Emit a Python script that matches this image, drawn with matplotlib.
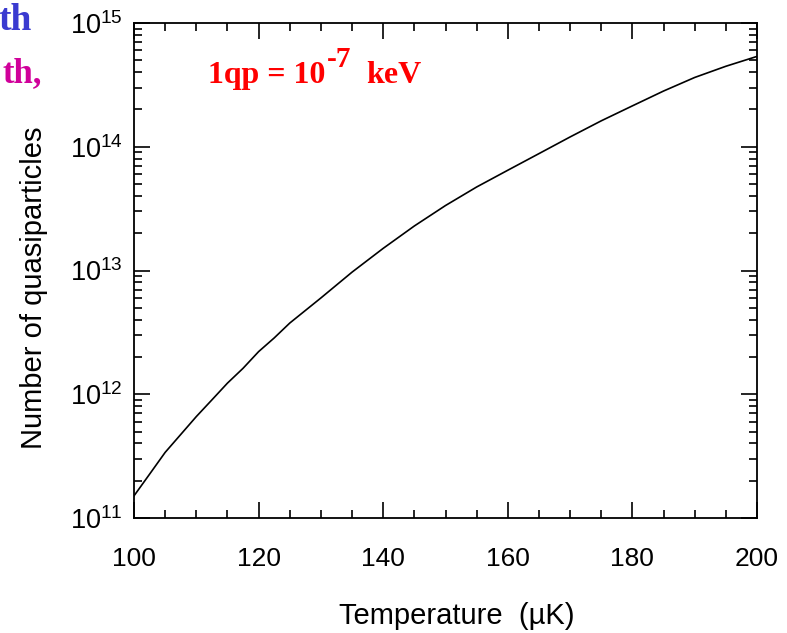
import numpy as np
import matplotlib
matplotlib.use("Agg")
import matplotlib.pyplot as plt
from matplotlib.ticker import LogLocator, MultipleLocator, NullFormatter

plt.rcParams['font.family'] = ['Liberation Sans', 'DejaVu Sans']
plt.rcParams['mathtext.fontset'] = 'custom'
plt.rcParams['mathtext.rm'] = 'Liberation Sans'

# values
temperature = [100, 102.5, 105, 107.5, 110, 112.5, 115, 117.5, 120, 122.5, 125,
               130, 135, 140, 145, 150, 155, 160, 165, 170, 175, 180, 185,
               190, 195, 200]
n_qp = [1.51e11, 2.26e11, 3.39e11, 4.73e11, 6.6e11, 9.0e11, 1.23e12, 1.62e12,
        2.21e12, 2.85e12, 3.76e12, 6.0e12, 9.7e12, 1.51e13, 2.29e13, 3.35e13,
        4.73e13, 6.46e13, 8.8e13, 1.20e14, 1.62e14, 2.14e14, 2.82e14,
        3.63e14, 4.47e14, 5.37e14]
y_exponents = [11, 12, 13, 14, 15]

W, H = 787, 633
fig = plt.figure(figsize=(W / 100, H / 100), dpi=100)
ax = fig.add_axes([134 / W, 1 - 518 / H, 623 / W, 495 / H])

ax.plot(temperature, n_qp, color='black', lw=1.2)

ax.set_yscale('log')
ax.set_xlim(100, 200)
ax.set_ylim(1e11, 1e15)

ax.xaxis.set_major_locator(MultipleLocator(20))
ax.xaxis.set_minor_locator(MultipleLocator(5))
ax.yaxis.set_minor_locator(LogLocator(base=10, subs=np.arange(2, 10), numticks=20))
ax.yaxis.set_minor_formatter(NullFormatter())
ax.set_yticks([10.0 ** e for e in y_exponents])
ax.set_yticklabels([r'$\mathregular{10^{%d}}$' % e for e in y_exponents])

ax.tick_params(which='both', direction='in', top=True, right=True, width=1.2)
ax.tick_params(which='major', length=11.5)
ax.tick_params(which='minor', length=6)
ax.tick_params(axis='x', which='major', labelsize=19, pad=21)
ax.tick_params(axis='y', which='major', labelsize=19.5, pad=8)

for s in ax.spines.values():
    s.set_linewidth(1.3)

ax.set_xlabel('Temperature  (\u00b5K)', fontsize=21)
ax.xaxis.set_label_coords(0.5185, -0.170)
ax.set_ylabel('Number of quasiparticles', fontsize=21)
ax.yaxis.set_label_coords(-0.138, 0.465)

# red annotation, built from three pieces so the exponent matches the original
red = dict(color='red', family='Liberation Serif', fontweight='bold', va='baseline', ha='left')
base_y = 1 - 83 / H
t1 = fig.text(208 / W, base_y, '1qp = 10', fontsize=23, **red)
fig.canvas.draw()
r = fig.canvas.get_renderer()
x2 = t1.get_window_extent(r).x1 + 1
t2 = fig.text(x2 / W, 1 - 67 / H, '-7', fontsize=21, **red)
x3 = t2.get_window_extent(r).x1 + 15
fig.text(x3 / W, base_y, 'keV', fontsize=23, **red)

# cut-off text at the top left of the original slide
fig.text(32 / W, 1 - 30 / H, 'th', color='#3a3ad0', fontsize=27,
         fontweight='bold', family='Liberation Serif', ha='right', va='baseline')
fig.text(42 / W, 1 - 82 / H, 'th,', color='#d0009a', fontsize=25,
         fontweight='bold', family='Liberation Serif', ha='right', va='baseline')

fig.savefig('out.png', dpi=100)
